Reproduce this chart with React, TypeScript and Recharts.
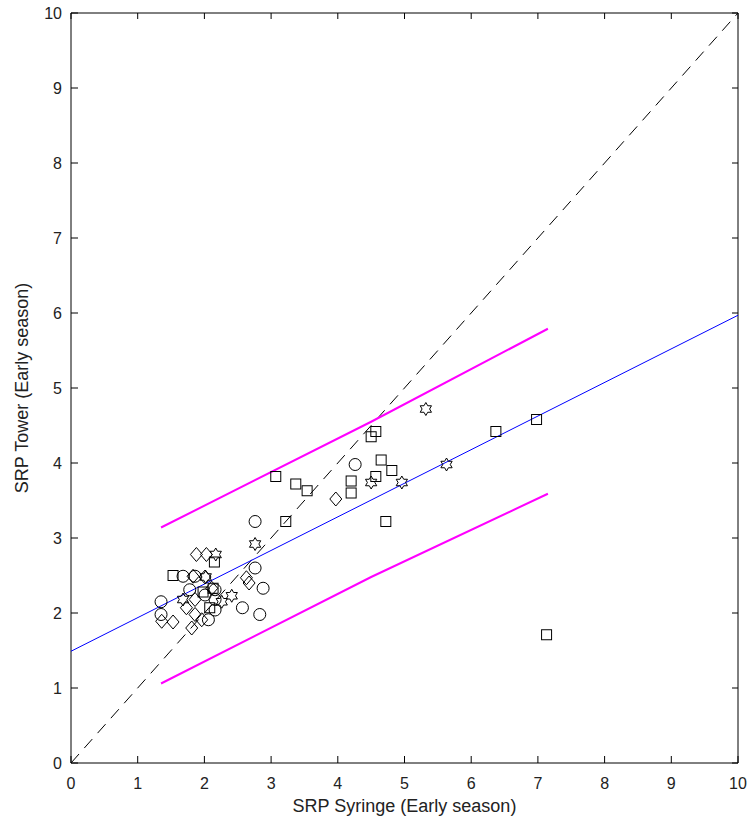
import { ScatterChart, Scatter, XAxis, YAxis } from 'recharts';

const axisTicks = [0, 1, 2, 3, 4, 5, 6, 7, 8, 9, 10];

// markers
const circles = [
  { x: 1.35, y: 2.15 }, { x: 1.35, y: 1.98 }, { x: 1.68, y: 2.49 }, { x: 1.86, y: 2.49 },
  { x: 1.78, y: 2.31 }, { x: 2.01, y: 2.24 }, { x: 2.16, y: 2.31 }, { x: 2.16, y: 2.18 },
  { x: 2.16, y: 2.04 }, { x: 2.06, y: 1.91 }, { x: 2.57, y: 2.07 }, { x: 2.76, y: 2.6 },
  { x: 2.76, y: 3.22 }, { x: 2.88, y: 2.33 }, { x: 2.83, y: 1.98 }, { x: 4.26, y: 3.98 },
];

const squares = [
  { x: 1.53, y: 2.5 }, { x: 2.15, y: 2.68 }, { x: 2.13, y: 2.33 }, { x: 2.08, y: 2.07 },
  { x: 1.98, y: 2.28 }, { x: 3.07, y: 3.82 }, { x: 3.22, y: 3.22 }, { x: 3.37, y: 3.72 },
  { x: 3.54, y: 3.63 }, { x: 4.2, y: 3.76 }, { x: 4.2, y: 3.6 }, { x: 4.5, y: 4.35 },
  { x: 4.57, y: 4.42 }, { x: 4.57, y: 3.82 }, { x: 4.65, y: 4.04 }, { x: 4.72, y: 3.22 },
  { x: 4.81, y: 3.9 }, { x: 6.37, y: 4.42 }, { x: 6.98, y: 4.58 }, { x: 7.13, y: 1.71 },
];

const diamonds = [
  { x: 1.36, y: 1.89 }, { x: 1.53, y: 1.88 }, { x: 1.88, y: 2.78 }, { x: 2.03, y: 2.78 },
  { x: 1.83, y: 2.49 }, { x: 2.01, y: 2.48 }, { x: 2.11, y: 2.33 }, { x: 1.86, y: 2.18 },
  { x: 1.73, y: 2.07 }, { x: 1.86, y: 1.98 }, { x: 1.81, y: 1.8 }, { x: 1.96, y: 1.91 },
  { x: 2.63, y: 2.47 }, { x: 2.67, y: 2.4 }, { x: 3.97, y: 3.52 },
];

const hexagrams = [
  { x: 1.68, y: 2.18 }, { x: 2.02, y: 2.48 }, { x: 2.17, y: 2.78 }, { x: 2.26, y: 2.15 },
  { x: 2.41, y: 2.23 }, { x: 2.76, y: 2.92 }, { x: 4.5, y: 3.74 }, { x: 4.96, y: 3.74 },
  { x: 5.32, y: 4.72 }, { x: 5.63, y: 3.98 },
];

// lines
const identityLine = [{ x: 0, y: 0 }, { x: 10, y: 10 }];
const fitLine = [{ x: 0, y: 1.49 }, { x: 10, y: 5.97 }];
const upperBound = [{ x: 1.35, y: 3.14 }, { x: 4.5, y: 4.55 }, { x: 7.15, y: 5.79 }];
const lowerBound = [{ x: 1.35, y: 1.06 }, { x: 4.5, y: 2.48 }, { x: 7.15, y: 3.59 }];

const ink = '#222';
const font = '"Liberation Sans", Arial, sans-serif';

const NoMark = () => <g />;
const blank = () => '';

const CircleMark = (p: any) => (
  <circle cx={p.cx} cy={p.cy} r={6} fill="none" stroke="#000" strokeWidth={1} />
);

const SquareMark = (p: any) => (
  <rect x={p.cx - 5} y={p.cy - 5} width={10} height={10} fill="none" stroke="#000" strokeWidth={1} />
);

const DiamondMark = (p: any) => (
  <polygon
    points={`${p.cx},${p.cy - 7} ${p.cx + 6},${p.cy} ${p.cx},${p.cy + 7} ${p.cx - 6},${p.cy}`}
    fill="none"
    stroke="#000"
    strokeWidth={1}
  />
);

const HexagramMark = (p: any) => {
  const pts: string[] = [];
  for (let i = 0; i < 12; i++) {
    const r = i % 2 === 0 ? 6.5 : 6.5 / Math.sqrt(3);
    const a = -Math.PI / 2 + (i * Math.PI) / 6;
    pts.push(`${p.cx + r * Math.cos(a)},${p.cy + r * Math.sin(a)}`);
  }
  return <polygon points={pts.join(' ')} fill="none" stroke="#000" strokeWidth={1} />;
};

export default function App() {
  return (
    <div style={{ position: 'absolute', left: 0, top: 0, width: 750, height: 828, background: '#fff' }}>
      <ScatterChart width={750} height={828} margin={{ top: 13, right: 12, bottom: 15, left: 11 }}>
        <XAxis
          type="number"
          dataKey="x"
          domain={[0, 10]}
          ticks={axisTicks}
          height={50}
          stroke="#000"
          tickSize={-7}
          tickMargin={22}
          tick={{ fill: ink, fontSize: 16, fontFamily: font }}
        />
        <XAxis
          xAxisId="top"
          orientation="top"
          type="number"
          dataKey="x"
          domain={[0, 10]}
          ticks={axisTicks}
          height={20}
          mirror
          stroke="#000"
          tickFormatter={blank}
        />
        <YAxis
          type="number"
          dataKey="y"
          domain={[0, 10]}
          ticks={axisTicks}
          width={60}
          stroke="#000"
          tickSize={-7}
          tickMargin={16}
          tick={{ fill: ink, fontSize: 16, fontFamily: font }}
        />
        <YAxis
          yAxisId="right"
          orientation="right"
          type="number"
          dataKey="y"
          domain={[0, 10]}
          ticks={axisTicks}
          width={20}
          mirror
          stroke="#000"
          tickFormatter={blank}
        />
        <Scatter data={identityLine} xAxisId="top" yAxisId="right" shape={NoMark} isAnimationActive={false} />
        <Scatter data={identityLine} line={{ stroke: '#000', strokeWidth: 1, strokeDasharray: '12 8' }} shape={NoMark} isAnimationActive={false} />
        <Scatter data={fitLine} line={{ stroke: '#0000ff', strokeWidth: 1 }} shape={NoMark} isAnimationActive={false} />
        <Scatter data={upperBound} line={{ stroke: '#ff00ff', strokeWidth: 2 }} shape={NoMark} isAnimationActive={false} />
        <Scatter data={lowerBound} line={{ stroke: '#ff00ff', strokeWidth: 2 }} shape={NoMark} isAnimationActive={false} />
        <Scatter data={circles} shape={CircleMark} isAnimationActive={false} />
        <Scatter data={squares} shape={SquareMark} isAnimationActive={false} />
        <Scatter data={diamonds} shape={DiamondMark} isAnimationActive={false} />
        <Scatter data={hexagrams} shape={HexagramMark} isAnimationActive={false} />
      </ScatterChart>
      <div
        style={{
          position: 'absolute', left: 71, width: 667, top: 795, textAlign: 'center',
          fontFamily: font, fontSize: 18, color: ink, lineHeight: '22px',
        }}
      >
        SRP Syringe (Early season)
      </div>
      <div
        style={{
          position: 'absolute', left: 22, top: 388, width: 0, height: 0,
        }}
      >
        <div
          style={{
            position: 'absolute', left: -200, top: -11, width: 400, textAlign: 'center',
            transform: 'rotate(-90deg)', fontFamily: font, fontSize: 18, color: ink,
            lineHeight: '22px', whiteSpace: 'nowrap',
          }}
        >
          SRP Tower (Early season)
        </div>
      </div>
    </div>
  );
}
